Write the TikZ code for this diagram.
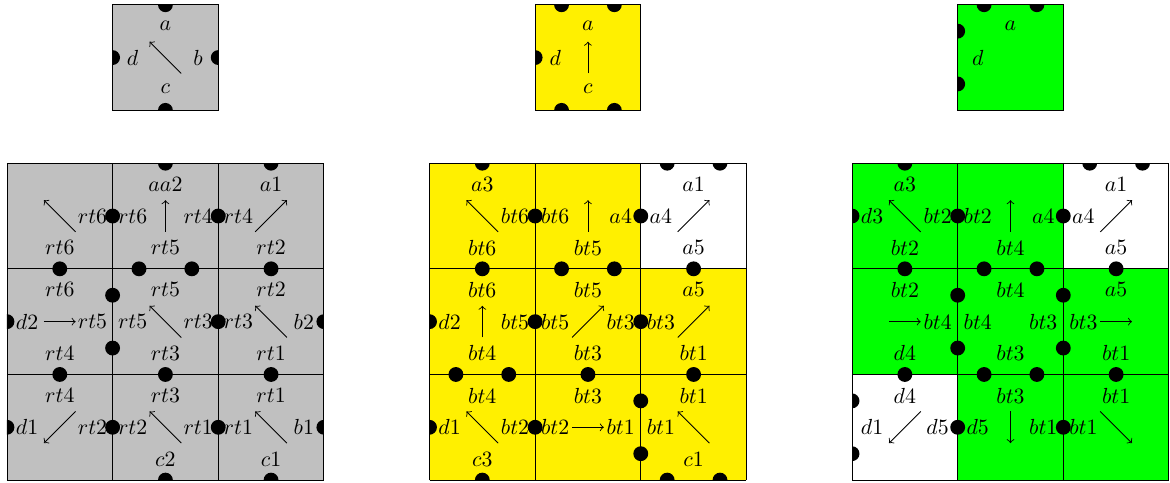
\documentclass[tikz,border=0pt]{standalone}
\usepackage{amsmath,amssymb}
\usepackage{tikz}

\definecolor{tilegray}{RGB}{192,192,192}
\definecolor{tileyellow}{RGB}{255,240,0}
\definecolor{tilegreen}{RGB}{0,255,0}
\tikzset{dot/.style={fill=black}}

\begin{document}
\begin{tikzpicture}[x=1.7cm,y=1.7cm]
  \useasboundingbox (-0.066,-0.02) rectangle (11.01,4.545);

  \fill[tilegray] (1,3.5) rectangle (2,4.5);
  \begin{scope}
    \clip (1,3.5) rectangle (2,4.5);
    \fill[dot] (1.5,4.5) circle (3.4pt);
    \fill[dot] (2,4) circle (3.4pt);
    \fill[dot] (1.5,3.5) circle (3.4pt);
    \fill[dot] (1,4) circle (3.4pt);
  \end{scope}
  \draw (1,3.5) rectangle (2,4.5);
  \node (grTa) at (1.5,4.3) {$a$};
  \node (grTb) at (1.81,4) {$b$};
  \node (grTc) at (1.5,3.7) {$c$};
  \node (grTd) at (1.19,4) {$d$};
  \draw[->] (1.65,3.85) -- (1.35,4.15);

  \fill[tileyellow] (5,3.5) rectangle (6,4.5);
  \begin{scope}
    \clip (5,3.5) rectangle (6,4.5);
    \fill[dot] (5.25,4.5) circle (3.4pt);
    \fill[dot] (5.75,4.5) circle (3.4pt);
    \fill[dot] (5.25,3.5) circle (3.4pt);
    \fill[dot] (5.75,3.5) circle (3.4pt);
    \fill[dot] (5,4) circle (3.4pt);
  \end{scope}
  \draw (5,3.5) rectangle (6,4.5);
  \node (yeTa) at (5.5,4.3) {$a$};
  \node (yeTc) at (5.5,3.7) {$c$};
  \node (yeTd) at (5.19,4) {$d$};
  \draw[->] (5.5,3.85) -- (5.5,4.15);

  \fill[tilegreen] (9,3.5) rectangle (10,4.5);
  \begin{scope}
    \clip (9,3.5) rectangle (10,4.5);
    \fill[dot] (9.25,4.5) circle (3.4pt);
    \fill[dot] (9.75,4.5) circle (3.4pt);
    \fill[dot] (9,4.25) circle (3.4pt);
    \fill[dot] (9,3.75) circle (3.4pt);
  \end{scope}
  \draw (9,3.5) rectangle (10,4.5);
  \node (gnTa) at (9.5,4.3) {$a$};
  \node (gnTd) at (9.19,4) {$d$};

  \begin{scope}
    \fill[tilegray] (0,0) rectangle (3,3);
    \begin{scope}
      \clip (0,0) rectangle (3,3);
      \fill[dot] (1.5,3) circle (3.4pt);
      \fill[dot] (2.5,3) circle (3.4pt);
      \fill[dot] (1,2.5) circle (3.4pt);
      \fill[dot] (2,2.5) circle (3.4pt);
      \fill[dot] (0.5,2) circle (3.4pt);
      \fill[dot] (1.25,2) circle (3.4pt);
      \fill[dot] (1.75,2) circle (3.4pt);
      \fill[dot] (2.5,2) circle (3.4pt);
      \fill[dot] (0,1.5) circle (3.4pt);
      \fill[dot] (1,1.75) circle (3.4pt);
      \fill[dot] (1,1.25) circle (3.4pt);
      \fill[dot] (2,1.5) circle (3.4pt);
      \fill[dot] (3,1.5) circle (3.4pt);
      \fill[dot] (0.5,1) circle (3.4pt);
      \fill[dot] (1.5,1) circle (3.4pt);
      \fill[dot] (2.5,1) circle (3.4pt);
      \fill[dot] (0,0.5) circle (3.4pt);
      \fill[dot] (1,0.5) circle (3.4pt);
      \fill[dot] (2,0.5) circle (3.4pt);
      \fill[dot] (3,0.5) circle (3.4pt);
      \fill[dot] (1.5,0) circle (3.4pt);
      \fill[dot] (2.5,0) circle (3.4pt);
    \end{scope}
    \draw[step=1.7cm] (0,0) grid (3,3);
    \node (gr02r) at (0.81,2.5) {$rt6$};
    \node (gr02b) at (0.5,2.2) {$rt6$};
    \draw[->] (0.65,2.35) -- (0.35,2.65);
    \node (gr12t) at (1.5,2.8) {$aa2$};
    \node (gr12l) at (1.19,2.5) {$rt6$};
    \node (gr12r) at (1.81,2.5) {$rt4$};
    \node (gr12b) at (1.5,2.2) {$rt5$};
    \draw[->] (1.5,2.35) -- (1.5,2.65);
    \node (gr22t) at (2.5,2.8) {$a1$};
    \node (gr22l) at (2.19,2.5) {$rt4$};
    \node (gr22b) at (2.5,2.2) {$rt2$};
    \draw[->] (2.35,2.35) -- (2.65,2.65);
    \node (gr01t) at (0.5,1.8) {$rt6$};
    \node (gr01l) at (0.19,1.5) {$d2$};
    \node (gr01r) at (0.81,1.5) {$rt5$};
    \node (gr01b) at (0.5,1.2) {$rt4$};
    \draw[->] (0.35,1.5) -- (0.65,1.5);
    \node (gr11t) at (1.5,1.8) {$rt5$};
    \node (gr11l) at (1.19,1.5) {$rt5$};
    \node (gr11r) at (1.81,1.5) {$rt3$};
    \node (gr11b) at (1.5,1.2) {$rt3$};
    \draw[->] (1.65,1.35) -- (1.35,1.65);
    \node (gr21t) at (2.5,1.8) {$rt2$};
    \node (gr21l) at (2.19,1.5) {$rt3$};
    \node (gr21r) at (2.81,1.5) {$b2$};
    \node (gr21b) at (2.5,1.2) {$rt1$};
    \draw[->] (2.65,1.35) -- (2.35,1.65);
    \node (gr00t) at (0.5,0.8) {$rt4$};
    \node (gr00l) at (0.19,0.5) {$d1$};
    \node (gr00r) at (0.81,0.5) {$rt2$};
    \draw[->] (0.65,0.65) -- (0.35,0.35);
    \node (gr10t) at (1.5,0.8) {$rt3$};
    \node (gr10l) at (1.19,0.5) {$rt2$};
    \node (gr10r) at (1.81,0.5) {$rt1$};
    \node (gr10b) at (1.5,0.2) {$c2$};
    \draw[->] (1.65,0.35) -- (1.35,0.65);
    \node (gr20t) at (2.5,0.8) {$rt1$};
    \node (gr20l) at (2.19,0.5) {$rt1$};
    \node (gr20r) at (2.81,0.5) {$b1$};
    \node (gr20b) at (2.5,0.2) {$c1$};
    \draw[->] (2.65,0.35) -- (2.35,0.65);
  \end{scope}

  \begin{scope}[shift={(4,0)}]
    \fill[tileyellow] (0,0) rectangle (3,3);
    \fill[white] (2,2) rectangle (3,3);
    \begin{scope}
      \clip (0,0) rectangle (3,3);
      \fill[dot] (0.5,3) circle (3.4pt);
      \fill[dot] (2.25,3) circle (3.4pt);
      \fill[dot] (2.75,3) circle (3.4pt);
      \fill[dot] (1,2.5) circle (3.4pt);
      \fill[dot] (2,2.5) circle (3.4pt);
      \fill[dot] (0.5,2) circle (3.4pt);
      \fill[dot] (1.25,2) circle (3.4pt);
      \fill[dot] (1.75,2) circle (3.4pt);
      \fill[dot] (2.5,2) circle (3.4pt);
      \fill[dot] (0,1.5) circle (3.4pt);
      \fill[dot] (1,1.5) circle (3.4pt);
      \fill[dot] (2,1.5) circle (3.4pt);
      \fill[dot] (0.25,1) circle (3.4pt);
      \fill[dot] (0.75,1) circle (3.4pt);
      \fill[dot] (1.5,1) circle (3.4pt);
      \fill[dot] (2.5,1) circle (3.4pt);
      \fill[dot] (0,0.5) circle (3.4pt);
      \fill[dot] (1,0.5) circle (3.4pt);
      \fill[dot] (2,0.75) circle (3.4pt);
      \fill[dot] (2,0.25) circle (3.4pt);
      \fill[dot] (0.5,0) circle (3.4pt);
      \fill[dot] (2.25,0) circle (3.4pt);
      \fill[dot] (2.75,0) circle (3.4pt);
    \end{scope}
    \draw[step=1.7cm] (0,0) grid (3,3);
    \node (ye02t) at (0.5,2.8) {$a3$};
    \node (ye02r) at (0.81,2.5) {$bt6$};
    \node (ye02b) at (0.5,2.2) {$bt6$};
    \draw[->] (0.65,2.35) -- (0.35,2.65);
    \node (ye12l) at (1.19,2.5) {$bt6$};
    \node (ye12r) at (1.81,2.5) {$a4$};
    \node (ye12b) at (1.5,2.2) {$bt5$};
    \draw[->] (1.5,2.35) -- (1.5,2.65);
    \node (ye22t) at (2.5,2.8) {$a1$};
    \node (ye22l) at (2.19,2.5) {$a4$};
    \node (ye22b) at (2.5,2.2) {$a5$};
    \draw[->] (2.35,2.35) -- (2.65,2.65);
    \node (ye01t) at (0.5,1.8) {$bt6$};
    \node (ye01l) at (0.19,1.5) {$d2$};
    \node (ye01r) at (0.81,1.5) {$bt5$};
    \node (ye01b) at (0.5,1.2) {$bt4$};
    \draw[->] (0.5,1.35) -- (0.5,1.65);
    \node (ye11t) at (1.5,1.8) {$bt5$};
    \node (ye11l) at (1.19,1.5) {$bt5$};
    \node (ye11r) at (1.81,1.5) {$bt3$};
    \node (ye11b) at (1.5,1.2) {$bt3$};
    \draw[->] (1.35,1.35) -- (1.65,1.65);
    \node (ye21t) at (2.5,1.8) {$a5$};
    \node (ye21l) at (2.19,1.5) {$bt3$};
    \node (ye21b) at (2.5,1.2) {$bt1$};
    \draw[->] (2.35,1.35) -- (2.65,1.65);
    \node (ye00t) at (0.5,0.8) {$bt4$};
    \node (ye00l) at (0.19,0.5) {$d1$};
    \node (ye00r) at (0.81,0.5) {$bt2$};
    \node (ye00b) at (0.5,0.2) {$c3$};
    \draw[->] (0.65,0.35) -- (0.35,0.65);
    \node (ye10t) at (1.5,0.8) {$bt3$};
    \node (ye10l) at (1.19,0.5) {$bt2$};
    \node (ye10r) at (1.81,0.5) {$bt1$};
    \draw[->] (1.35,0.5) -- (1.65,0.5);
    \node (ye20t) at (2.5,0.8) {$bt1$};
    \node (ye20l) at (2.19,0.5) {$bt1$};
    \node (ye20b) at (2.5,0.2) {$c1$};
    \draw[->] (2.65,0.35) -- (2.35,0.65);
  \end{scope}

  \begin{scope}[shift={(8,0)}]
    \fill[tilegreen] (0,0) rectangle (3,3);
    \fill[white] (2,2) rectangle (3,3);
    \fill[white] (0,0) rectangle (1,1);
    \begin{scope}
      \clip (0,0) rectangle (3,3);
      \fill[dot] (0.5,3) circle (3.4pt);
      \fill[dot] (2.25,3) circle (3.4pt);
      \fill[dot] (2.75,3) circle (3.4pt);
      \fill[dot] (0,2.5) circle (3.4pt);
      \fill[dot] (1,2.5) circle (3.4pt);
      \fill[dot] (2,2.5) circle (3.4pt);
      \fill[dot] (0.5,2) circle (3.4pt);
      \fill[dot] (1.25,2) circle (3.4pt);
      \fill[dot] (1.75,2) circle (3.4pt);
      \fill[dot] (2.5,2) circle (3.4pt);
      \fill[dot] (1,1.75) circle (3.4pt);
      \fill[dot] (1,1.25) circle (3.4pt);
      \fill[dot] (2,1.75) circle (3.4pt);
      \fill[dot] (2,1.25) circle (3.4pt);
      \fill[dot] (0.5,1) circle (3.4pt);
      \fill[dot] (1.25,1) circle (3.4pt);
      \fill[dot] (1.75,1) circle (3.4pt);
      \fill[dot] (2.5,1) circle (3.4pt);
      \fill[dot] (0,0.75) circle (3.4pt);
      \fill[dot] (0,0.25) circle (3.4pt);
      \fill[dot] (1,0.5) circle (3.4pt);
      \fill[dot] (2,0.5) circle (3.4pt);
    \end{scope}
    \draw[step=1.7cm] (0,0) grid (3,3);
    \node (gn02t) at (0.5,2.8) {$a3$};
    \node (gn02l) at (0.19,2.5) {$d3$};
    \node (gn02r) at (0.81,2.5) {$bt2$};
    \node (gn02b) at (0.5,2.2) {$bt2$};
    \draw[->] (0.65,2.35) -- (0.35,2.65);
    \node (gn12l) at (1.19,2.5) {$bt2$};
    \node (gn12r) at (1.81,2.5) {$a4$};
    \node (gn12b) at (1.5,2.2) {$bt4$};
    \draw[->] (1.5,2.35) -- (1.5,2.65);
    \node (gn22t) at (2.5,2.8) {$a1$};
    \node (gn22l) at (2.19,2.5) {$a4$};
    \node (gn22b) at (2.5,2.2) {$a5$};
    \draw[->] (2.35,2.35) -- (2.65,2.65);
    \node (gn01t) at (0.5,1.8) {$bt2$};
    \node (gn01r) at (0.81,1.5) {$bt4$};
    \node (gn01b) at (0.5,1.2) {$d4$};
    \draw[->] (0.35,1.5) -- (0.65,1.5);
    \node (gn11t) at (1.5,1.8) {$bt4$};
    \node (gn11l) at (1.19,1.5) {$bt4$};
    \node (gn11r) at (1.81,1.5) {$bt3$};
    \node (gn11b) at (1.5,1.2) {$bt3$};
    \node (gn21t) at (2.5,1.8) {$a5$};
    \node (gn21l) at (2.19,1.5) {$bt3$};
    \node (gn21b) at (2.5,1.2) {$bt1$};
    \draw[->] (2.35,1.5) -- (2.65,1.5);
    \node (gn00t) at (0.5,0.8) {$d4$};
    \node (gn00l) at (0.19,0.5) {$d1$};
    \node (gn00r) at (0.81,0.5) {$d5$};
    \draw[->] (0.65,0.65) -- (0.35,0.35);
    \node (gn10t) at (1.5,0.8) {$bt3$};
    \node (gn10l) at (1.19,0.5) {$d5$};
    \node (gn10r) at (1.81,0.5) {$bt1$};
    \draw[->] (1.5,0.65) -- (1.5,0.35);
    \node (gn20t) at (2.5,0.8) {$bt1$};
    \node (gn20l) at (2.19,0.5) {$bt1$};
    \draw[->] (2.35,0.65) -- (2.65,0.35);
  \end{scope}
\end{tikzpicture}
\end{document}
